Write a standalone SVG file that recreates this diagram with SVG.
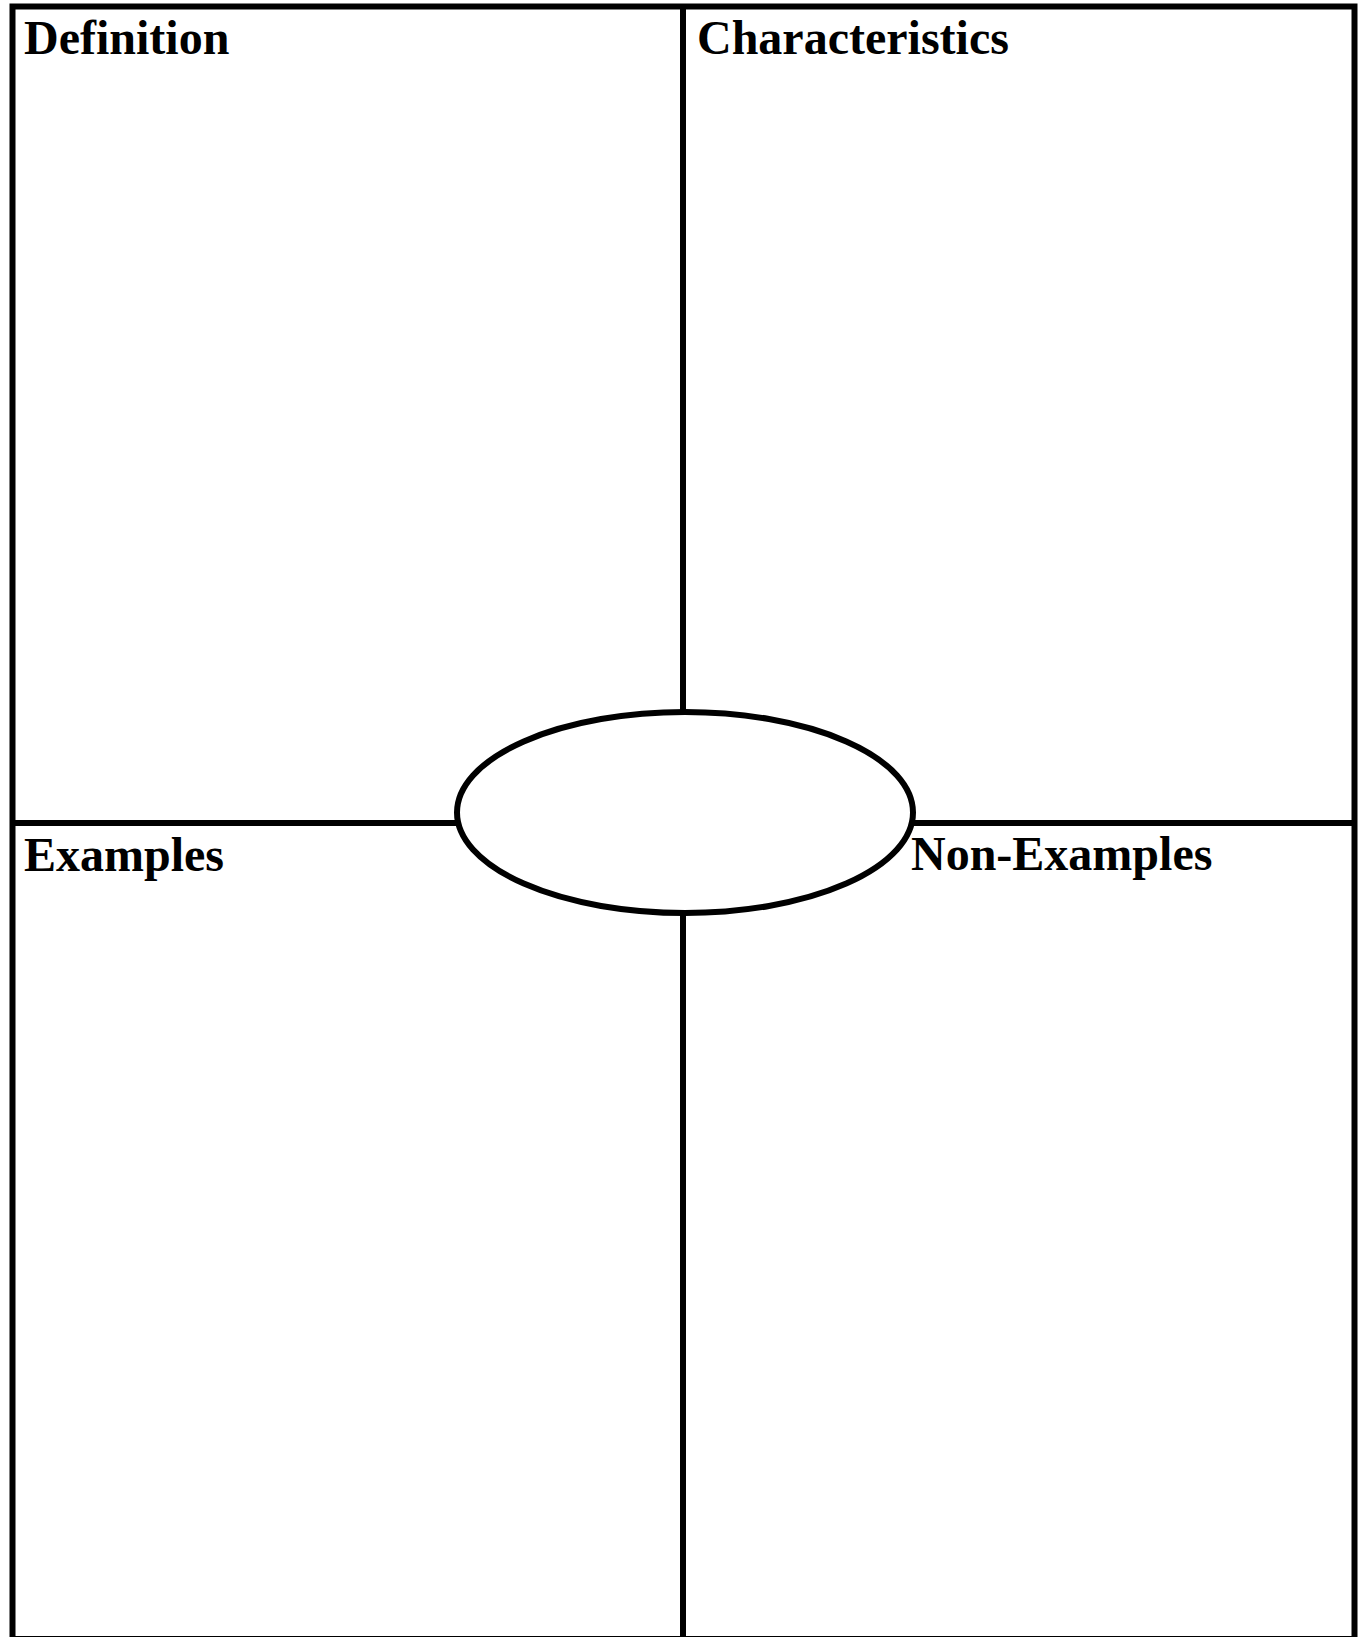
<svg xmlns="http://www.w3.org/2000/svg" width="1362" height="1637" viewBox="0 0 1362 1637">
<style>
.ln{stroke:#000;stroke-width:6;fill:none}
.lbl{font-family:"Liberation Serif","Times New Roman",serif;font-weight:bold;font-size:48px;fill:#000}
</style>
<rect width="1362" height="1637" fill="#fff"/>
<g id="connectors">
<rect class="ln" x="12.5" y="6.5" width="1342" height="1632.5"/>
<line class="ln" x1="12.5" y1="823" x2="1354.5" y2="823"/>
<line class="ln" x1="683" y1="6.5" x2="683" y2="1639"/>
</g>
<g id="definition"><text class="lbl" x="24" y="54">Definition</text></g>
<g id="characteristics"><text class="lbl" x="697" y="54">Characteristics</text></g>
<g id="examples"><text class="lbl" x="24" y="871">Examples</text></g>
<g id="non-examples"><text class="lbl" x="911" y="870">Non-Examples</text></g>
<g id="center"><ellipse class="ln" cx="685" cy="812.5" rx="228" ry="100.5" style="fill:#fff"/></g>
</svg>
